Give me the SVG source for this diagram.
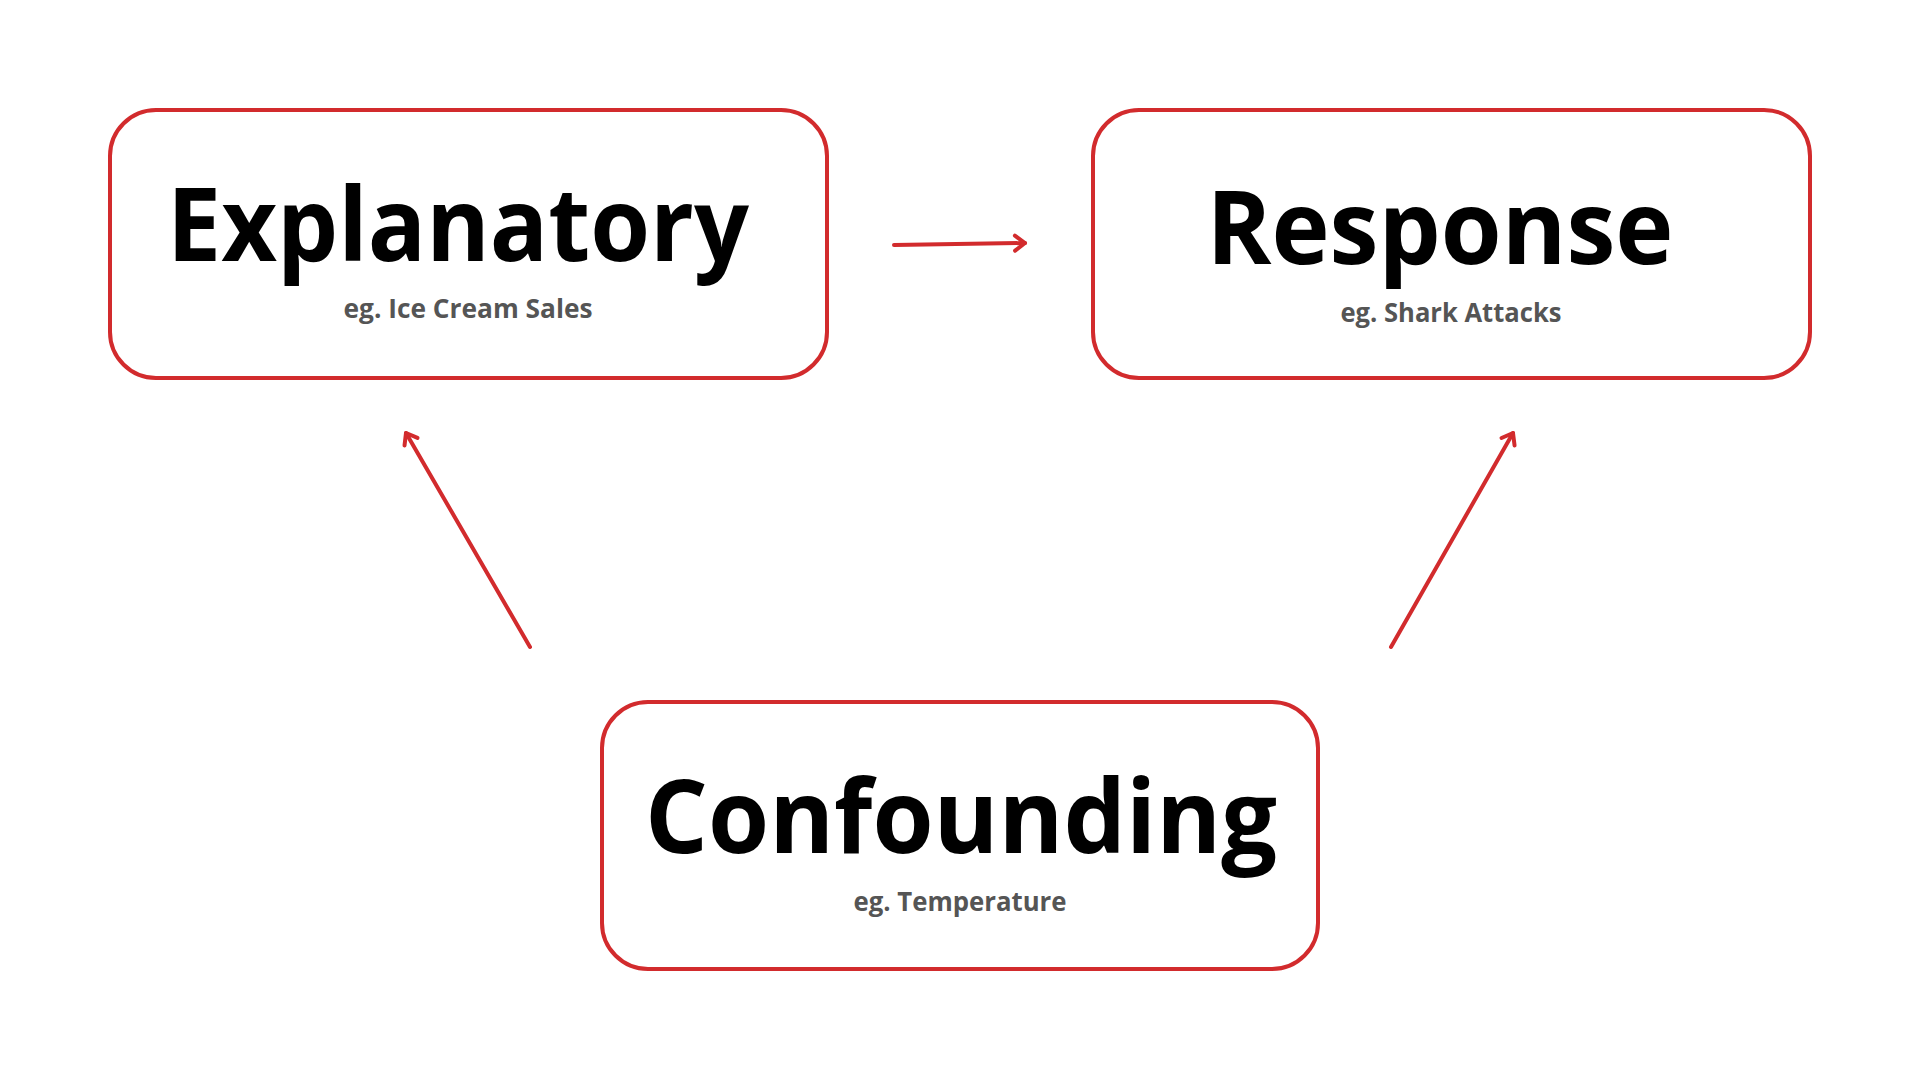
<svg xmlns="http://www.w3.org/2000/svg" width="1920" height="1080" viewBox="0 0 1920 1080">
<defs>
<style>
.box{fill:#ffffff;stroke:#d22b2d;stroke-width:4}
.title{font-family:"Open Sans","Noto Sans",sans-serif;font-weight:700;font-size:102px;fill:#000000;text-anchor:middle}
.sub{font-family:"Open Sans","Noto Sans",sans-serif;font-weight:700;font-size:27px;fill:#555555;text-anchor:middle}
.conn{fill:none;stroke:#d22b2d;stroke-width:4;stroke-linecap:round}
</style>
<marker id="arrow" markerUnits="userSpaceOnUse" markerWidth="30" markerHeight="30" refX="0" refY="0" viewBox="-15 -15 30 30" orient="auto" overflow="visible">
<path d="M -10 -7.5 L 0 0 L -10 7.5" fill="none" stroke="#d22b2d" stroke-width="4" stroke-linecap="round" stroke-linejoin="round"/>
</marker>
</defs>
<rect width="1920" height="1080" fill="#ffffff"/>
<g id="explanatory">
<rect class="box" x="110" y="110" width="717" height="268" rx="46"/>
<text class="title" x="458" y="261" textLength="582" lengthAdjust="spacingAndGlyphs">Explanatory</text>
<text class="sub" x="468" y="318" textLength="249" lengthAdjust="spacingAndGlyphs">eg. Ice Cream Sales</text>
</g>
<g id="response">
<rect class="box" x="1093" y="110" width="717" height="268" rx="46"/>
<text class="title" x="1440" y="264" textLength="467" lengthAdjust="spacingAndGlyphs">Response</text>
<text class="sub" x="1451" y="322" textLength="221" lengthAdjust="spacingAndGlyphs">eg. Shark Attacks</text>
</g>
<g id="confounding">
<rect class="box" x="602" y="702" width="716" height="267" rx="46"/>
<text class="title" x="961" y="853" textLength="632" lengthAdjust="spacingAndGlyphs">Confounding</text>
<text class="sub" x="960" y="911" textLength="213" lengthAdjust="spacingAndGlyphs">eg. Temperature</text>
</g>
<g id="connectors">
<line class="conn" x1="894" y1="245" x2="1025" y2="243" marker-end="url(#arrow)"/>
<line class="conn" x1="530" y1="647" x2="406" y2="433" marker-end="url(#arrow)"/>
<line class="conn" x1="1391" y1="647" x2="1513" y2="433" marker-end="url(#arrow)"/>
</g>
</svg>
